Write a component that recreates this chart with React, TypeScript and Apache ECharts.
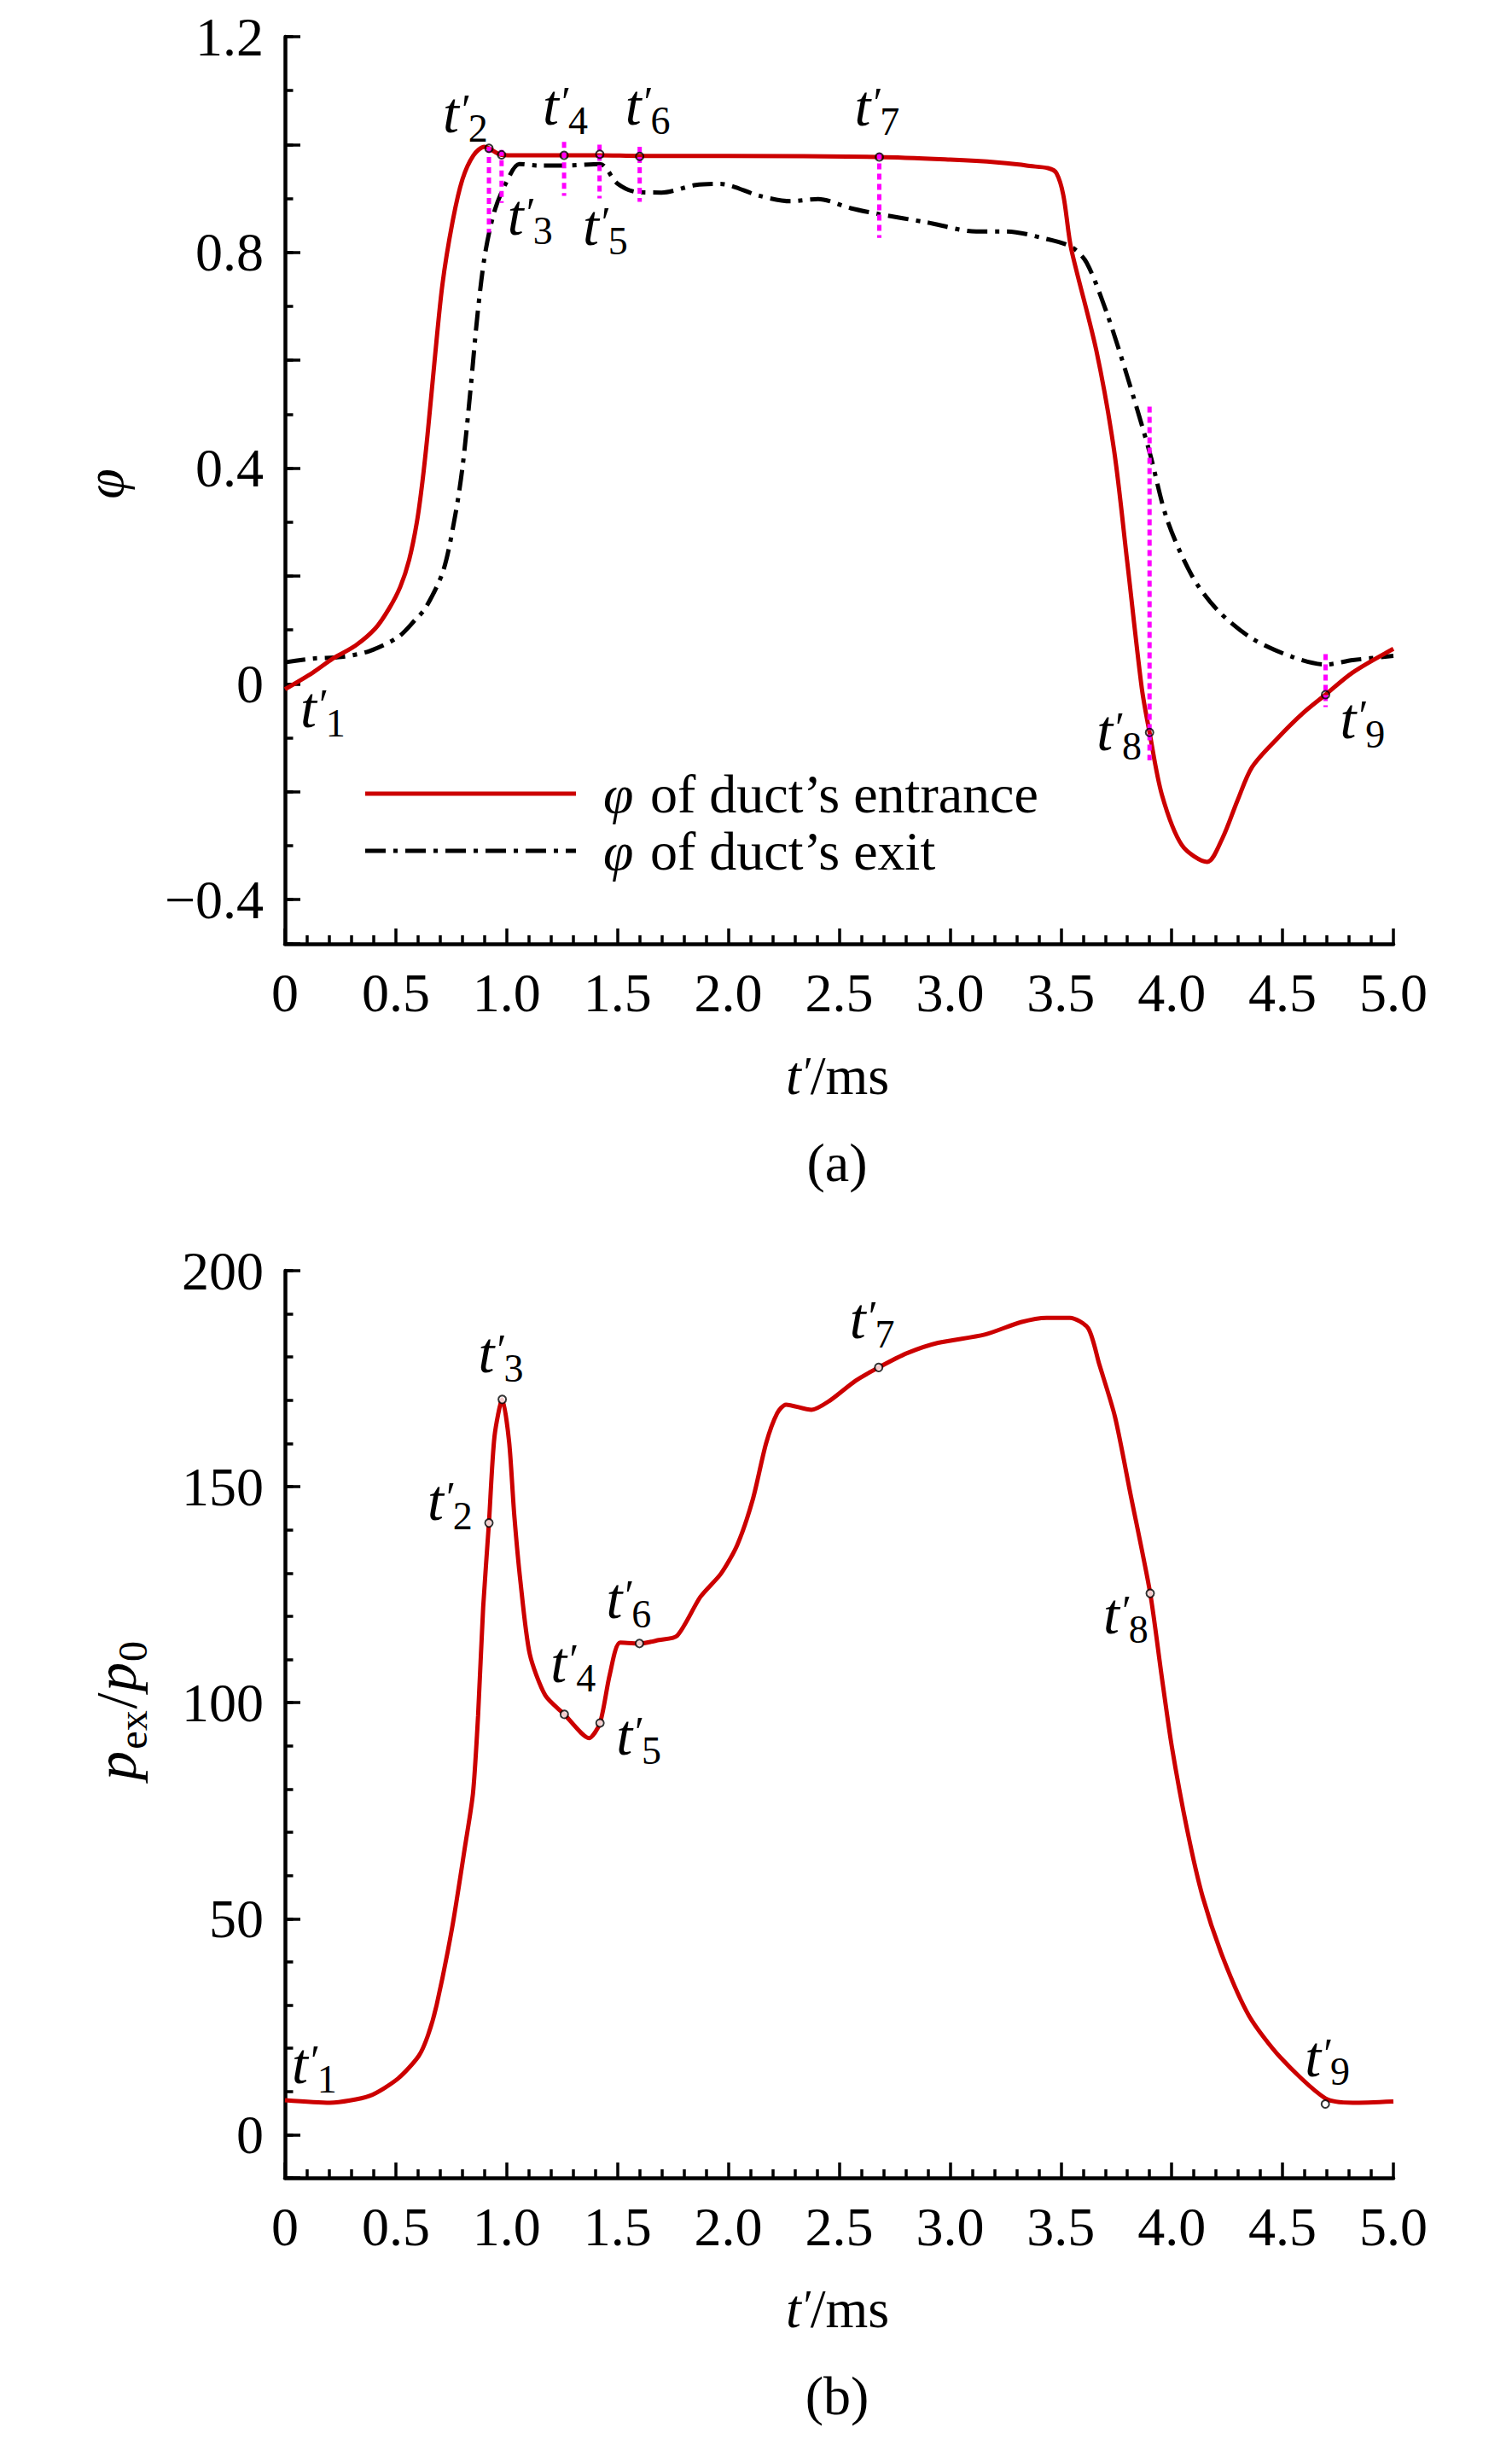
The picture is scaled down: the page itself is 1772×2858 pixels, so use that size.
import React, { useEffect, useRef } from 'react';
import * as echarts from 'echarts';

// ---------- (a) equivalence ratio φ ----------
const entranceT = [0, 0.126, 0.216, 0.318, 0.408, 0.47, 0.52, 0.56, 0.595, 0.62, 0.645, 0.675, 0.71, 0.755, 0.8, 0.85, 0.9, 0.92, 0.977, 1.05, 1.26, 1.42, 1.6, 2.0, 2.68, 3.0, 3.21, 3.345, 3.48, 3.548, 3.66, 3.74, 3.8, 3.865, 3.9, 3.956, 4.046, 4.16, 4.228, 4.296, 4.363, 4.477, 4.59, 4.694, 4.816, 5.0];
const entranceP = [-0.01, 0.021, 0.047, 0.071, 0.103, 0.14, 0.18, 0.23, 0.3, 0.375, 0.47, 0.6, 0.74, 0.855, 0.935, 0.98, 0.996, 0.993, 0.981, 0.98, 0.98, 0.98, 0.979, 0.979, 0.977, 0.972, 0.967, 0.961, 0.947, 0.804, 0.618, 0.433, 0.224, -0.008, -0.09, -0.206, -0.299, -0.33, -0.287, -0.217, -0.154, -0.101, -0.055, -0.02, 0.021, 0.065];

const exitT = [0, 0.126, 0.254, 0.382, 0.511, 0.588, 0.636, 0.714, 0.769, 0.802, 0.836, 0.869, 0.902, 0.946, 1.001, 1.057, 1.145, 1.256, 1.42, 1.499, 1.587, 1.698, 1.853, 1.963, 2.14, 2.281, 2.405, 2.552, 2.681, 2.892, 3.118, 3.254, 3.435, 3.548, 3.616, 3.707, 3.798, 3.9, 3.979, 4.092, 4.206, 4.363, 4.545, 4.694, 4.816, 5.0];
const exitP = [0.04, 0.047, 0.05, 0.061, 0.087, 0.119, 0.142, 0.21, 0.315, 0.406, 0.542, 0.687, 0.796, 0.878, 0.932, 0.964, 0.961, 0.961, 0.964, 0.928, 0.912, 0.911, 0.925, 0.927, 0.905, 0.895, 0.899, 0.882, 0.871, 0.856, 0.839, 0.839, 0.825, 0.81, 0.781, 0.688, 0.572, 0.43, 0.305, 0.2, 0.137, 0.084, 0.05, 0.036, 0.044, 0.052];

// instants t'2 ... t'9 on the entrance curve
const markT = [0.92, 0.977, 1.259, 1.42, 1.6, 2.681, 3.9, 4.694];
const markP = [0.993, 0.981, 0.98, 0.982, 0.978, 0.977, -0.09, -0.02];

// magenta dotted markers (vertical segments)
const dropT = [0.92, 0.977, 1.259, 1.419, 1.6, 2.681, 3.9, 4.694];
const dropTop = [0.996, 0.99, 1.005, 1.0, 0.996, 0.984, 0.514, 0.055];
const dropBottom = [0.837, 0.892, 0.905, 0.9, 0.894, 0.827, -0.142, -0.043];

// ---------- (b) p_ex / p_0 ----------
const pexT = [0, 0.203, 0.382, 0.51, 0.603, 0.645, 0.684, 0.754, 0.813, 0.848, 0.871, 0.894, 0.92, 0.945, 0.98, 1.011, 1.034, 1.062, 1.104, 1.174, 1.26, 1.372, 1.421, 1.465, 1.512, 1.599, 1.687, 1.769, 1.874, 1.967, 2.04, 2.11, 2.17, 2.22, 2.26, 2.375, 2.457, 2.573, 2.678, 2.806, 2.946, 3.156, 3.32, 3.436, 3.541, 3.623, 3.674, 3.744, 3.814, 3.903, 3.954, 4.0, 4.07, 4.14, 4.234, 4.35, 4.49, 4.693, 4.817, 5.0];
const pexV = [8.0, 7.4, 9.0, 13.0, 18.2, 23.0, 30.0, 47.9, 67.0, 79.0, 97.0, 122.1, 141.6, 161.6, 170.2, 160.4, 143.6, 128.1, 111.3, 101.7, 97.3, 91.8, 95.3, 106.5, 113.9, 113.7, 114.5, 115.5, 124.5, 129.9, 136.5, 147.0, 160.0, 167.0, 169.0, 167.8, 169.9, 174.5, 177.6, 180.9, 183.3, 185.2, 188.1, 189.1, 189.1, 186.7, 178.2, 166.2, 148.3, 125.3, 106.4, 90.0, 70.5, 55.0, 40.6, 27.4, 17.9, 8.4, 7.4, 7.7];

const bMarkT = [0.92, 0.98, 1.26, 1.421, 1.599, 2.678, 3.903, 4.693];
const bMarkV = [141.6, 170.2, 97.3, 95.3, 113.7, 177.6, 125.3, 7.1];

const subs = ['1', '2', '3', '4', '5', '6', '7', '8', '9'];

// label offsets in px from their point (layout only)
const topLabelDX = [18, -54, 7, -25, -20, -17, -29, -62, 17];
const topLabelDY = [44, -19, 94, -36, 106, -37, -37, 21, 51];
const botLabelDX = [8, -72, -28, -16, 19, -39, -34, -55, -24];
const botLabelDY = [-20, -4, -32, -38, 37, -30, -34, 47, -33];

const SERIF = 'Liberation Serif';
const C = 0.3375;
const RED = '#CC0000';
const MAGENTA = '#FF00FF';

const zip = (a: number[], b: number[]) => a.map((v, i) => [v, b[i]]);

type Part = { text: string; size: number; italic?: boolean; dy?: number; w?: number };

// one rich text element; (ax, ay) is the baseline anchor, parts may be raised/lowered by dy
function rt(ax: number, ay: number, parts: Part[], align = 'left', rotation = 0) {
  const centers = parts.map((p) => (p.dy || 0) - C * p.size);
  const top = Math.min(...parts.map((p, i) => centers[i] - p.size / 2));
  const rich: any = {};
  let text = '';
  parts.forEach((p, i) => {
    const key = 'k' + i;
    const st: any = {
      font: `${p.italic ? 'italic ' : ''}${p.size}px "${SERIF}"`,
      fill: '#000',
      verticalAlign: 'top',
      height: 2 * (centers[i] - top),
    };
    if (p.w != null) st.width = p.w;
    rich[key] = st;
    text += `{${key}|${p.text}}`;
  });
  return {
    type: 'text', x: ax, y: ay, rotation, silent: true,
    style: {
      text, x: 0, y: top, rich, fill: '#000',
      font: `${parts[0].size}px "${SERIF}"`,
      align, verticalAlign: 'top', textAlign: align, textVerticalAlign: 'top',
    },
  };
}

const tLabel = (bx: number, by: number, sub: string) =>
  rt(bx, by, [
    { text: 't', size: 68, italic: true },
    { text: '′', size: 50, italic: true, dy: -10 },
    { text: sub, size: 46, dy: 11 },
  ]);

const axisLabelBase = { fontFamily: SERIF, fontSize: 64, color: '#000' };
const lineBase = { show: true, onZero: false, lineStyle: { color: '#000', width: 4.5 } };
const tickStyle = { color: '#000', width: 3.5 };

function fmtPhi(v: number) {
  const k = v / 0.4;
  if (Math.abs(k - Math.round(k)) > 1e-6) return '';
  if (Math.abs(v) < 1e-9) return '0';
  return v < 0 ? '\u2212' + Math.abs(v).toFixed(1) : v.toFixed(1);
}
function fmtP(v: number) {
  const k = v / 50;
  if (v < 0 || Math.abs(k - Math.round(k)) > 1e-6) return '';
  return String(Math.round(v));
}

export default function App() {
  const ref = useRef<HTMLDivElement>(null);
  useEffect(() => {
    const chart = echarts.init(ref.current as HTMLDivElement, null, { renderer: 'svg' });
    const xAxes = [0, 1].map((g) => ({
      type: 'value', gridIndex: g, min: 0, max: 5, interval: 0.5,
      axisLine: lineBase,
      axisTick: { show: true, inside: true, length: 18, lineStyle: tickStyle },
      minorTick: { show: true, splitNumber: 5, length: 10, lineStyle: tickStyle },
      splitLine: { show: false }, minorSplitLine: { show: false },
      axisLabel: { ...axisLabelBase, margin: 25, formatter: (v: number) => (v === 0 ? '0' : v.toFixed(1)) },
    }));
    const yMain = (g: number, min: number, max: number, split: number, fmt: any) => ({
      type: 'value', gridIndex: g, min, max, splitNumber: split, position: 'left',
      axisLine: lineBase,
      axisTick: { show: true, inside: true, length: 18, lineStyle: tickStyle },
      splitLine: { show: false },
      axisLabel: { ...axisLabelBase, margin: 25, formatter: fmt },
    });
    const yMinor = (g: number, min: number, max: number, split: number) => ({
      type: 'value', gridIndex: g, min, max, splitNumber: split, position: 'left',
      axisLine: { show: false, onZero: false },
      axisTick: { show: true, inside: true, length: 9.5, lineStyle: tickStyle },
      splitLine: { show: false },
      axisLabel: { show: false },
    });

    const dropSeries = dropT.map((t, i) => ({
      type: 'line', xAxisIndex: 0, yAxisIndex: 0, symbol: 'none', silent: true, z: 4,
      data: [[t, dropTop[i]], [t, dropBottom[i]]],
      lineStyle: { color: MAGENTA, width: 5, type: [7, 5], cap: 'butt' },
    }));

    const option: any = {
      animation: false,
      backgroundColor: '#fff',
      grid: [
        { left: 334, top: 43, width: 1299, height: 1063 },
        { left: 334, top: 1489, width: 1299, height: 1063 },
      ],
      xAxis: xAxes,
      yAxis: [
        yMain(0, -0.482, 1.2, 8, fmtPhi),
        yMinor(0, -0.482, 1.2, 16),
        yMain(1, -10, 200, 4, fmtP),
        yMinor(1, -10, 200, 21),
      ],
      series: [
        {
          name: 'entrance', type: 'line', xAxisIndex: 0, yAxisIndex: 0, symbol: 'none', smooth: 0.3, z: 3,
          data: zip(entranceT, entranceP), lineStyle: { color: RED, width: 5 },
        },
        {
          name: 'exit', type: 'line', xAxisIndex: 0, yAxisIndex: 0, symbol: 'none', smooth: 0.3, z: 2,
          data: zip(exitT, exitP), lineStyle: { color: '#000', width: 5, type: [24, 9, 5, 9] },
        },
        ...dropSeries,
        {
          type: 'scatter', xAxisIndex: 0, yAxisIndex: 0, symbol: 'circle', symbolSize: 9, z: 6, silent: true,
          data: zip(markT, markP), itemStyle: { color: 'transparent', borderColor: '#000', borderWidth: 2 },
        },
        {
          name: 'pex', type: 'line', xAxisIndex: 1, yAxisIndex: 2, symbol: 'none', smooth: 0.25, z: 3,
          data: zip(pexT, pexV), lineStyle: { color: RED, width: 5 },
        },
        {
          type: 'scatter', xAxisIndex: 1, yAxisIndex: 2, symbol: 'circle', symbolSize: 9, z: 6, silent: true,
          data: zip(bMarkT, bMarkV), itemStyle: { color: '#fff', borderColor: '#000', borderWidth: 2 },
        },
      ],
    };
    chart.setOption(option);

    const topSeriesIdx = 0;
    const botSeriesIdx = option.series.length - 2;
    const labels: any[] = [];
    subs.forEach((s, i) => {
      const pt = i === 0 ? [entranceT[0], entranceP[0]] : [markT[i - 1], markP[i - 1]];
      const px = chart.convertToPixel({ seriesIndex: topSeriesIdx }, pt) as number[];
      labels.push(tLabel(px[0] + topLabelDX[i], px[1] + topLabelDY[i], s));
      const pb = i === 0 ? [pexT[0], pexV[0]] : [bMarkT[i - 1], bMarkV[i - 1]];
      const pbx = chart.convertToPixel({ seriesIndex: botSeriesIdx }, pb) as number[];
      labels.push(tLabel(pbx[0] + botLabelDX[i], pbx[1] + botLabelDY[i], s));
    });

    const xTitle = (by: number) =>
      rt(921, by, [
        { text: 't', size: 64, italic: true },
        { text: '′', size: 50, italic: true, dy: -9 },
        { text: '/ms', size: 64 },
      ]);

    const pTitle = rt(159, 2005, [
      { text: 'p', size: 68, italic: true, w: 36 },
      { text: 'ex', size: 48, dy: 13, w: 48 },
      { text: '/', size: 68, w: 20 },
      { text: 'p', size: 68, italic: true, w: 36 },
      { text: '0', size: 48, dy: 13 },
    ], 'center', Math.PI / 2);

    const phiTitle = rt(144, 567, [{ text: 'φ', size: 64, italic: true }], 'center', Math.PI / 2);

    const legend = [
      { type: 'line', silent: true, shape: { x1: 428, y1: 930, x2: 675, y2: 930 }, style: { stroke: RED, lineWidth: 5 } },
      { type: 'line', silent: true, shape: { x1: 428, y1: 997, x2: 675, y2: 997 }, style: { stroke: '#000', lineWidth: 5, lineDash: [24, 9, 5, 9] } },
      rt(707, 930 + C * 64, [{ text: 'φ', size: 64, italic: true, w: 39 }, { text: ' of duct’s entrance', size: 64 }]),
      rt(707, 997 + C * 64, [{ text: 'φ', size: 64, italic: true, w: 39 }, { text: ' of duct’s exit', size: 64 }]),
    ];

    chart.setOption({
      graphic: [
        ...legend,
        ...labels,
        xTitle(1282),
        xTitle(2727),
        phiTitle,
        pTitle,
        rt(981, 1362 + C * 64, [{ text: '(a)', size: 64 }], 'center'),
        rt(981, 2807 + C * 64, [{ text: '(b)', size: 64 }], 'center'),
      ],
    });
    return () => chart.dispose();
  }, []);
  return (
    <div
      ref={ref}
      style={{ position: 'absolute', left: 0, top: 0, width: 1772, height: 2858, background: '#fff' }}
    />
  );
}
